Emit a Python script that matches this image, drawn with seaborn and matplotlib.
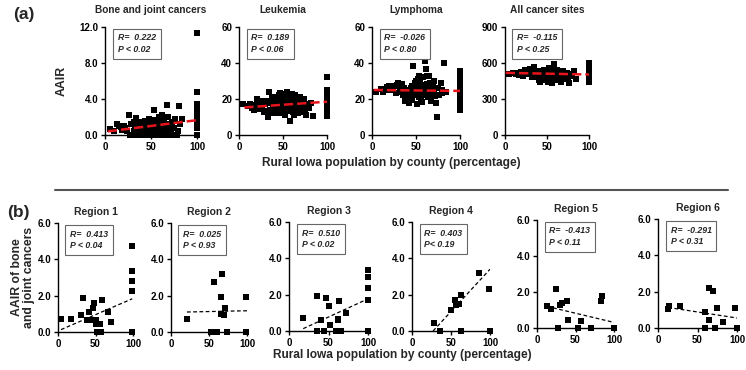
import matplotlib
matplotlib.use("Agg")
import matplotlib.pyplot as plt
import seaborn as sns

# rural population (%) of the 99 counties, same order in all four top panels
rural_pct = [
    5, 10, 13, 15, 17, 19, 21, 24, 26, 28,
    30, 31, 33, 34, 35, 36, 37, 38, 39, 40,
    41, 42, 43, 44, 45, 46, 47, 48, 48, 49,
    50, 50, 51, 52, 52, 53, 54, 54, 55, 56,
    56, 57, 58, 58, 59, 60, 60, 61, 62, 62,
    63, 64, 64, 65, 66, 67, 67, 68, 69, 70,
    71, 72, 73, 74, 75, 76, 78, 80, 82, 84,
    22, 27, 32, 44, 47, 53, 57, 61, 65, 69,
    79, 100, 100, 100, 100, 100, 100, 100, 100, 100,
    100, 100, 100, 100, 100, 100, 100, 100, 100,
]
bone_aair = [
    0.7, 0.5, 1.2, 1.0, 0.9, 0.6, 1.0, 0.4, 2.2, 1.2,
    0.0, 1.5, 0.9, 1.9, 0.0, 1.3, 0.6, 1.1, 0.0, 1.5,
    0.3, 1.0, 0.7, 1.6, 0.0, 1.2, 0.5, 1.8, 0.0, 0.9,
    1.4, 0.0, 0.3, 1.7, 0.6, 2.8, 0.0, 1.1, 0.4, 1.6,
    0.0, 0.8, 1.3, 0.0, 2.0, 0.5, 1.0, 0.0, 2.2, 1.5,
    0.3, 0.0, 1.8, 0.9, 0.0, 3.3, 1.2, 0.6, 2.0, 0.0,
    1.0, 0.4, 1.5, 0.0, 0.8, 1.8, 0.0, 3.2, 1.2, 1.8,
    0.8, 0.0, 0.4, 0.0, 1.2, 0.0, 0.0, 1.2, 0.0, 0.0,
    0.5, 11.3, 4.8, 3.5, 3.3, 3.1, 2.8, 2.5, 2.3, 2.0,
    1.8, 1.6, 1.4, 1.2, 1.0, 0.9, 0.8, 0.0, 0.0,
]
leukemia_aair = [
    17.5, 16, 17, 15, 14, 16.5, 20, 17, 15.5, 13,
    17, 19, 10, 24, 14, 18, 20.5, 12, 16, 21,
    15, 12.5, 17.5, 19, 14, 22, 23.5, 16, 13, 20,
    23, 18, 15, 22.5, 11, 17, 20, 13.5, 24, 16,
    19, 14, 21.5, 8, 17, 15, 23, 13, 18, 20,
    11, 16.5, 22, 14.5, 18.5, 12, 16, 19.5, 15, 17,
    13, 18, 16, 20, 14, 11, 17, 15, 18, 10.5,
    14.5, 19, 13.5, 16, 12, 20.5, 17.5, 16, 12.5, 21,
    16.5, 32, 25, 23.5, 22, 21, 20, 19, 18, 17,
    16.5, 16, 15, 14.5, 14, 13, 12, 10.5, 15.5,
]
lymphoma_aair = [
    24, 25.5, 24, 25, 26.5, 27, 26.5, 25.5, 27.5, 28,
    29, 27, 24, 28.5, 22, 26, 19, 23, 20, 25,
    22.5, 18, 21, 24.5, 19.5, 27, 38.5, 22, 26, 29,
    30, 24, 17, 31, 27.5, 33, 22.5, 26, 30, 28,
    19.5, 24.5, 32, 27, 22, 41, 25, 36.5, 28.5, 23,
    33, 26, 21, 33, 29, 24.5, 19, 27.5, 22, 25,
    30, 21.5, 18, 10, 26, 22, 29, 25, 40, 24,
    25, 23.5, 24, 26, 23, 21, 18.5, 24, 27, 26.5,
    23.5, 35.5, 34, 33, 31, 30, 28, 27, 26, 25,
    24, 23, 22, 21, 20, 19, 17, 15, 14,
]
all_sites_aair = [
    510, 515, 505, 520, 500, 525, 510, 540, 520, 505,
    550, 530, 510, 545, 565, 500, 525, 480, 535, 455,
    510, 440, 495, 520, 470, 540, 500, 460, 515, 490,
    530, 475, 445, 555, 500, 520, 465, 490, 545, 510,
    430, 480, 590, 505, 470, 525, 455, 500, 540, 480,
    460, 515, 495, 470, 520, 445, 500, 480, 530, 470,
    505, 490, 465, 520, 480, 435, 490, 500, 530, 470,
    495, 515, 485, 475, 535, 480, 500, 470, 510, 490,
    505, 600, 590, 575, 560, 550, 540, 530, 520, 510,
    500, 490, 480, 470, 465, 460, 455, 450, 445,
]

top_titles = ["Bone and joint cancers", "Leukemia", "Lymphoma", "All cancer sites"]
top_values = [bone_aair, leukemia_aair, lymphoma_aair, all_sites_aair]
top_yticks = [[0, 4, 8, 12], [0, 20, 40, 60], [0, 20, 40, 60], [0, 300, 600, 900]]
top_ylabels = [["0.0", "4.0", "8.0", "12.0"], ["0", "20", "40", "60"],
               ["0", "20", "40", "60"], ["0", "300", "600", "900"]]
top_r = ["R=  0.222", "R=  0.189", "R=  -0.026", "R=  -0.115"]
top_p = ["P < 0.02", "P < 0.06", "P < 0.80", "P < 0.25"]
top_trend_x = [[3, 100], [6, 100], [2, 100], [1, 100]]
top_trend_y = [[0.4, 1.65], [15.3, 18.5], [25.0, 24.5], [518, 504]]

# bone and joint cancers by region
region_titles = ["Region 1", "Region 2", "Region 3", "Region 4", "Region 5", "Region 6"]
region1_x = [4, 17, 30, 33, 39, 41, 43, 47, 48, 51, 51, 52, 54, 56, 56, 57, 58, 67, 71, 99, 99, 99, 99, 99]
region1_y = [0.73, 0.72, 0.94, 1.85, 0.68, 1.1, 0.68, 1.32, 1.6, 0.68, 0.44, 0.0, 0.44, 0.44, 0.0, 0.0,
             1.78, 1.08, 0.55, 4.75, 3.34, 2.79, 2.24, 0.0]
region2_x = [21, 52, 57, 60, 66, 66, 67, 70, 71, 74, 99, 99]
region2_y = [0.73, 0.0, 2.75, 0.0, 1.93, 0.99, 3.2, 0.95, 1.32, 0.0, 1.93, 0.0]
region3_x = [18, 35, 35, 40, 44, 47, 51, 52, 59, 62, 62, 63, 66, 72, 100, 100, 100, 100, 100]
region3_y = [0.72, 1.92, 0.0, 0.59, 0.0, 1.79, 1.37, 0.31, 0.0, 0.59, 0.68, 1.66, 0.0, 1.0,
             3.36, 2.99, 2.38, 1.7, 0.0]
region4_x = [28, 36, 50, 55, 57, 60, 63, 63, 86, 99, 100]
region4_y = [0.46, 0.0, 1.14, 1.7, 1.42, 1.5, 1.97, 0.0, 3.2, 2.3, 0.0]
region5_x = [13, 18, 25, 27, 30, 32, 39, 40, 53, 57, 70, 83, 84, 100]
region5_y = [1.24, 1.05, 2.16, 0.0, 1.29, 1.38, 1.48, 0.46, 0.0, 0.37, 0.0, 1.48, 1.79, 0.0]
region6_x = [13, 14, 28, 59, 60, 64, 65, 69, 72, 75, 82, 98, 100]
region6_y = [1.07, 1.2, 1.2, 0.0, 0.89, 2.18, 0.42, 2.05, 0.0, 1.1, 0.33, 1.1, 0.0]
region_x = [region1_x, region2_x, region3_x, region4_x, region5_x, region6_x]
region_y = [region1_y, region2_y, region3_y, region4_y, region5_y, region6_y]
region_r = ["R=  0.413", "R=  0.025", "R=  0.510", "R=  0.403", "R=  -0.413", "R=  -0.291"]
region_p = ["P < 0.04", "P < 0.93", "P < 0.02", "P< 0.19", "P < 0.11", "P < 0.31"]
region_trend_x = [[4, 99], [21, 100], [18, 100], [27, 100], [13, 100], [13, 100]]
region_trend_y = [[0.13, 1.83], [1.1, 1.17], [0.13, 1.77], [0.0, 3.4], [1.2, 0.31], [1.13, 0.55]]

sns.set_theme(style="ticks")
plt.rcParams["font.family"] = ["Liberation Sans", "DejaVu Sans"]
plt.rcParams["font.weight"] = "bold"

W, H = 746, 370
fig = plt.figure(figsize=(W / 100, H / 100), dpi=100)


def px_axes(left, top, right, bottom):
    return fig.add_axes([left / W, 1 - bottom / H, (right - left) / W, (bottom - top) / H])


def style_axes(ax, yticks, ylabels):
    ax.set_xlim(0, 100)
    ax.set_ylim(yticks[0], yticks[-1])
    ax.set_xticks([0, 50, 100])
    ax.set_xticklabels(["0", "50", "100"])
    ax.set_yticks(yticks)
    ax.set_yticklabels(ylabels)
    ax.tick_params(direction="out", length=3, width=1, labelsize=7, pad=2, colors="black")
    for s in ["left", "bottom"]:
        ax.spines[s].set_color("black")
        ax.spines[s].set_linewidth(1)
    ax.spines["top"].set_visible(False)
    ax.spines["right"].set_visible(False)
    ax.set_facecolor("none")
    ax.set_xlabel("")
    ax.set_ylabel("")


def stat_box(ax, r, p, x0):
    ax.text(x0, 0.94, r + "\n" + p, transform=ax.transAxes, ha="left", va="top",
            fontsize=6.3, fontstyle="italic", fontweight="bold", linespacing=1.35,
            bbox=dict(boxstyle="square,pad=0.55", fc="white", ec="#666666", lw=0.8))


top_pos = [(105, 27, 197, 135), (239, 27, 327, 135), (372, 27, 460, 135), (505, 27, 589, 135)]
for i in range(4):
    ax = px_axes(*top_pos[i])
    sns.scatterplot(x=rural_pct, y=top_values[i], marker="s", color="black", s=14,
                    linewidth=0, ax=ax, clip_on=False, zorder=3)
    sns.lineplot(x=top_trend_x[i], y=top_trend_y[i], color="#e8141b", linestyle="--",
                 linewidth=1.8, estimator=None, ax=ax, zorder=4)
    style_axes(ax, top_yticks[i], top_ylabels[i])
    ax.set_title(top_titles[i], fontsize=7.3, fontweight="bold", pad=10)
    stat_box(ax, top_r[i], top_p[i], 0.14)
    if i == 0:
        ax.set_ylabel("AAIR", fontsize=8.8, fontweight="bold", labelpad=8)

bottom_pos = [(58, 223, 133, 332), (171, 223, 247, 332), (289, 222, 368, 331),
              (412, 222, 490, 331), (537, 220, 614, 328), (658, 219, 737, 328)]
for i in range(6):
    ax = px_axes(*bottom_pos[i])
    sns.scatterplot(x=region_x[i], y=region_y[i], marker="s", color="black", s=14,
                    linewidth=0, ax=ax, clip_on=False, zorder=3)
    sns.lineplot(x=region_trend_x[i], y=region_trend_y[i], color="black", linestyle=(0, (3, 2)),
                 linewidth=0.9, estimator=None, ax=ax, zorder=4)
    style_axes(ax, [0, 2, 4, 6], ["0.0", "2.0", "4.0", "6.0"])
    ax.set_title(region_titles[i], fontsize=7.5, fontweight="bold", pad=6)
    stat_box(ax, region_r[i], region_p[i], 0.16)
    if i == 0:
        ax.set_ylabel("AAIR of bone\nand joint cancers", fontsize=8.8, fontweight="bold",
                      labelpad=2, linespacing=1.0)

fig.text(391 / W, 1 - 163 / H, "Rural Iowa population by county (percentage)",
         ha="center", va="center", fontsize=8.6, fontweight="bold")
fig.text(402 / W, 1 - 355 / H, "Rural Iowa population by county (percentage)",
         ha="center", va="center", fontsize=8.6, fontweight="bold")
fig.text(13 / W, 1 - 14 / H, "(a)", ha="left", va="center", fontsize=12.5, fontweight="bold")
fig.text(7 / W, 1 - 212 / H, "(b)", ha="left", va="center", fontsize=12.5, fontweight="bold")
fig.add_artist(plt.Line2D([55 / W, 728 / W], [1 - 190 / H, 1 - 190 / H],
                          color="#555555", linewidth=1.5))

fig.savefig("out.png", dpi=100)
